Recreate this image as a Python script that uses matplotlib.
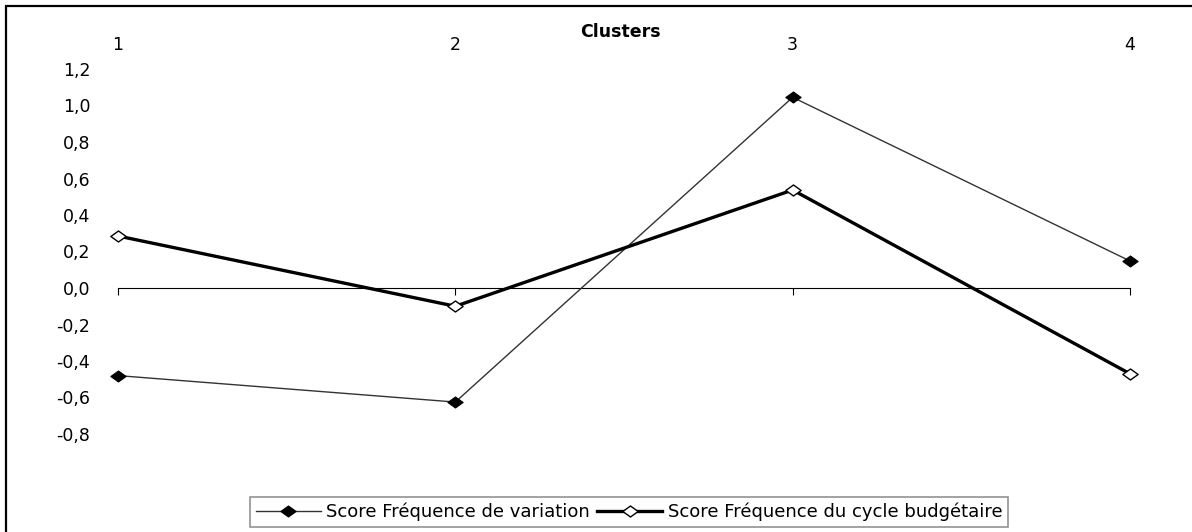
import matplotlib
matplotlib.use("Agg")
import matplotlib.pyplot as plt
from matplotlib.path import Path
from matplotlib.ticker import FuncFormatter, FixedLocator
from matplotlib.patches import Rectangle

plt.rcParams['font.family'] = ['DejaVu Sans']

clusters = [1, 2, 3, 4]
cluster_labels = ['1', '2', '3', '4']
score_variation = [-0.48, -0.625, 1.045, 0.148]
score_cycle = [0.285, -0.10, 0.537, -0.47]
series_names = ['Score Fréquence de variation', 'Score Fréquence du cycle budgétaire']
y_ticks = [-0.8, -0.6, -0.4, -0.2, 0.0, 0.2, 0.4, 0.6, 0.8, 1.0, 1.2]

W, H = 1192, 532
fig = plt.figure(figsize=(W / 100, H / 100), dpi=100)

# outer frame (left & top visible)
fig.patches.append(Rectangle((6 / W, -0.1), 1.2, (H - 6) / H + 0.1, transform=fig.transFigure,
                             fill=False, edgecolor='black', linewidth=1.6, zorder=0))

ax = fig.add_axes([118 / W, (H - 434) / H, (1130 - 118) / W, (434 - 69) / H])
ax.set_xlim(1, 4)
ax.set_ylim(-0.8, 1.2)

diamond = Path([(-1, 0), (0, 0.72), (1, 0), (0, -0.72), (-1, 0)],
               [Path.MOVETO, Path.LINETO, Path.LINETO, Path.LINETO, Path.CLOSEPOLY])

l1, = ax.plot(clusters, score_variation, color='#333333', linewidth=1.0,
              marker=diamond, markersize=11, markerfacecolor='black',
              markeredgecolor='black', markeredgewidth=0.8, label=series_names[0],
              clip_on=False, zorder=3)
l2, = ax.plot(clusters, score_cycle, color='black', linewidth=2.4,
              marker=diamond, markersize=11, markerfacecolor='white',
              markeredgecolor='black', markeredgewidth=1.0, label=series_names[1],
              clip_on=False, zorder=4)

for s in ['left', 'right', 'top']:
    ax.spines[s].set_visible(False)
ax.spines['bottom'].set_position(('data', 0))
ax.spines['bottom'].set_linewidth(0.8)

ax.xaxis.set_major_locator(FixedLocator(clusters))
ax.set_xticklabels(cluster_labels)
ax.tick_params(axis='x', bottom=True, top=False, labelbottom=False, labeltop=True,
               direction='out', length=5, width=0.8, labelsize=12.5, pad=5.5)

ax.yaxis.set_major_locator(FixedLocator(y_ticks))
ax.yaxis.set_major_formatter(FuncFormatter(lambda v, p: f"{v:.1f}".replace('.', ',')))
ax.tick_params(axis='y', left=False, length=0, labelsize=12.5, pad=20)

fig.text(620 / W, 1 - 32 / H, 'Clusters', ha='center', va='center',
         fontsize=12.5, fontweight='bold')

leg = fig.legend(handles=[l1, l2], loc='center',
                 bbox_to_anchor=(629 / W, 1 - 512 / H),
                 ncol=2, frameon=True, fancybox=False, fontsize=13,
                 handlelength=3.6, handletextpad=0.3, columnspacing=0.4,
                 borderpad=0.3, borderaxespad=0, edgecolor='#777777')
leg.get_frame().set_linewidth(1.2)

fig.savefig('out.png', dpi=100)
